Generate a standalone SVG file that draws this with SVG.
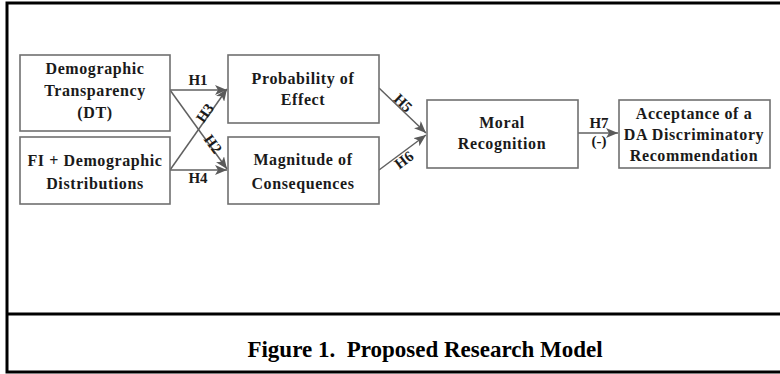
<svg xmlns="http://www.w3.org/2000/svg" width="780" height="374" viewBox="0 0 780 374">
<defs>
<style>
.frame{fill:none;stroke:#000;stroke-width:3}
.box rect{fill:#fff;stroke:#707070;stroke-width:1.6}
.box text,.lbl{font-family:"Liberation Serif","Times New Roman",serif;font-weight:bold;font-size:16px;fill:#1a1a1a;text-anchor:middle;letter-spacing:0.6px}
.lbl{font-size:15px;letter-spacing:0}
.conn line{stroke:#606060;stroke-width:1.5;marker-end:url(#ah)}
.cap{font-family:"Liberation Serif","Times New Roman",serif;font-weight:bold;font-size:23px;fill:#000;text-anchor:middle;white-space:pre}
</style>
<marker id="ah" viewBox="0 0 12 10" refX="12" refY="5" markerWidth="12" markerHeight="10" markerUnits="userSpaceOnUse" orient="auto">
<path d="M0,0 L12,5 L0,10 L3,5 Z" fill="#5a5a5a"/>
</marker>
</defs>
<rect width="780" height="374" fill="#fff"/>
<path class="frame" d="M781,3 H7 V372 H781 M7,314 H781"/>

<g id="connectors" class="conn">
<line x1="170" y1="90" x2="227" y2="90"/>
<line x1="170" y1="170" x2="227" y2="89"/>
<line x1="170" y1="90" x2="227" y2="169"/>
<line x1="170" y1="170" x2="227" y2="170"/>
<line x1="379" y1="88" x2="426" y2="133"/>
<line x1="379" y1="170" x2="426" y2="135"/>
<line x1="578" y1="133" x2="618" y2="133"/>
</g>
<g id="labels">
<text class="lbl" x="198" y="85">H1</text>
<text class="lbl" x="198" y="183">H4</text>
<text class="lbl" transform="translate(205,113) rotate(-55)" y="5">H3</text>
<text class="lbl" transform="translate(213,144) rotate(54)" y="5">H2</text>
<text class="lbl" transform="translate(403,103) rotate(44)" y="5">H5</text>
<text class="lbl" transform="translate(404,160) rotate(-37)" y="5">H6</text>
<text class="lbl" x="599" y="128">H7</text>
<text class="lbl" x="599" y="146">(-)</text>
</g>

<g id="dt" class="box">
<rect x="20" y="55" width="150" height="76"/>
<text x="95" y="74">Demographic</text>
<text x="95" y="96">Transparency</text>
<text x="95" y="118">(DT)</text>
</g>
<g id="fi" class="box">
<rect x="20" y="137" width="150" height="67"/>
<text x="95" y="166">FI + Demographic</text>
<text x="95" y="189">Distributions</text>
</g>
<g id="poe" class="box">
<rect x="228" y="55" width="151" height="68"/>
<text x="303" y="84">Probability of</text>
<text x="303" y="105">Effect</text>
</g>
<g id="moc" class="box">
<rect x="228" y="137" width="151" height="67"/>
<text x="303" y="165">Magnitude of</text>
<text x="303" y="189">Consequences</text>
</g>
<g id="mr" class="box">
<rect x="427" y="100" width="151" height="68"/>
<text x="502" y="128">Moral</text>
<text x="502" y="149">Recognition</text>
</g>
<g id="acc" class="box">
<rect x="619" y="100" width="151" height="68"/>
<text x="694" y="119">Acceptance of a</text>
<text x="694" y="140">DA Discriminatory</text>
<text x="694" y="161">Recommendation</text>
</g>
<text class="cap" x="425" y="357">Figure 1.  Proposed Research Model</text>
</svg>
